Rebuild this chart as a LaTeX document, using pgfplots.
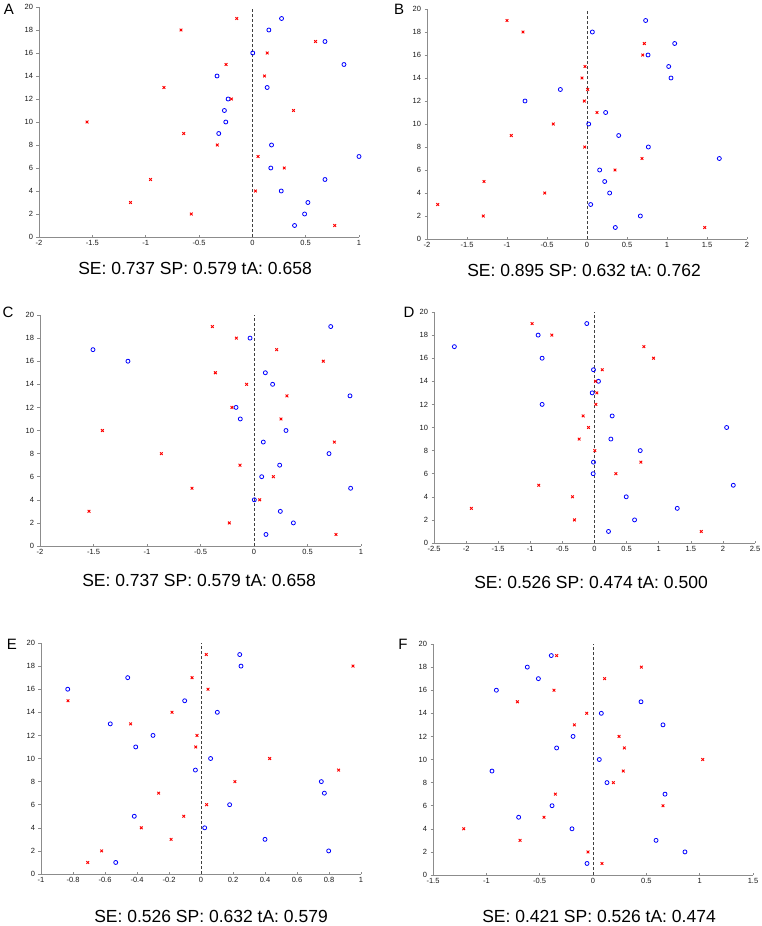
\documentclass[border=0pt]{standalone}
\usepackage{fontspec}
\setmainfont{Liberation Sans}
\usepackage{pgfplots}
\pgfplotsset{compat=1.18}
\pgfplotsset{
  panel/.style={
    scale only axis, width=320pt, height=230pt,
    axis lines*=left, ymin=0, ymax=20, ytick={0,2,...,20},
    xtick align=inside, ytick align=outside, major tick length=2.5pt,
    tick label style={font=\fontsize{7.5}{8}\selectfont, text=black!90},
    axis line style={black!45, line width=0.7pt},
    tick style={black!45, line width=0.5pt},
    clip=false,
    /pgf/number format/assume math mode=true,
    anchor=south west,
  },
  pos/.style={only marks, mark=o, color=blue, mark size=2pt, mark options={line width=0.8pt}},
  neg/.style={only marks, mark=x, color=red, mark size=1.9pt, mark options={line width=0.9pt}},
  zline/.style={black!75, dashed, line width=0.7pt, dash pattern=on 3pt off 2pt},
}
\newcommand{\capt}[1]{\fontsize{17.5}{20}\selectfont #1}
\newcommand{\lab}[1]{\fontsize{15}{17}\selectfont #1}
\begin{document}
\begin{tikzpicture}
\useasboundingbox (0pt,0pt) rectangle (761pt,-926pt);
% ---------- A ----------
\begin{axis}[panel, at={(39pt,-237pt)}, xmin=-2, xmax=1, xtick={-2,-1.5,...,1}]
\addplot[zline] coordinates {(0,0) (0,20)};
\addplot[pos] coordinates {(0.274,19)(0.155,18)(0.681,17)(0.004,16)(0.859,15)(-0.331,14)(0.139,13)(-0.227,12)(-0.262,11)(-0.249,10)(-0.315,9)(0.180,8)(1.0,7)(0.173,6)(0.681,5)(0.271,4)(0.521,3)(0.490,2)(0.396,1)};
\addplot[neg] coordinates {(-0.146,19)(-0.669,18)(0.593,17)(0.139,16)(-0.246,15)(0.114,14)(-0.829,13)(-0.196,12)(0.386,11)(-1.549,10)(-0.644,9)(-0.328,8)(0.054,7)(0.299,6)(-0.954,5)(0.029,4)(-1.142,3)(-0.572,2)(0.772,1)};
\end{axis}
% ---------- B ----------
\begin{axis}[panel, at={(427pt,-239pt)}, xmin=-2, xmax=2, xtick={-2,-1.5,...,2}]
\addplot[zline] coordinates {(0,0) (0,20)};
\addplot[pos] coordinates {(0.733,19)(0.067,18)(1.096,17)(0.763,16)(1.021,15)(1.05,14)(-0.333,13)(-0.775,12)(0.233,11)(0.021,10)(0.396,9)(0.767,8)(1.654,7)(0.158,6)(0.221,5)(0.283,4)(0.046,3)(0.667,2)(0.354,1)};
\addplot[neg] coordinates {(-1.0,19)(-0.8,18)(0.717,17)(0.696,16)(-0.025,15)(-0.062,14)(0.008,13)(-0.033,12)(0.125,11)(-0.421,10)(-0.946,9)(-0.029,8)(0.687,7)(0.35,6)(-1.287,5)(-0.529,4)(-1.867,3)(-1.296,2)(1.471,1)};
\end{axis}
% ---------- C ----------
\begin{axis}[panel, at={(40pt,-546pt)}, width=321pt, height=231pt, xmin=-2, xmax=1, xtick={-2,-1.5,...,1}]
\addplot[zline] coordinates {(0,0) (0,20)};
\addplot[pos] coordinates {(0.717,19)(-0.037,18)(-1.505,17)(-1.178,16)(0.106,15)(0.174,14)(0.897,13)(-0.168,12)(-0.128,11)(0.299,10)(0.087,9)(0.701,8)(0.240,7)(0.072,6)(0.903,5)(0.003,4)(0.246,3)(0.368,2)(0.112,1)};
\addplot[neg] coordinates {(-0.389,19)(-0.165,18)(0.212,17)(0.648,16)(-0.361,15)(-0.069,14)(0.308,13)(-0.206,12)(0.252,11)(-1.417,10)(0.751,9)(-0.866,8)(-0.131,7)(0.181,6)(-0.579,5)(0.053,4)(-1.542,3)(-0.231,2)(0.766,1)};
\end{axis}
% ---------- D ----------
\begin{axis}[panel, at={(434pt,-543pt)}, width=321pt, height=231pt, xmin=-2.5, xmax=2.5, xtick={-2.5,-2,...,2.5}]
\addplot[zline] coordinates {(0,0) (0,20)};
\addplot[pos] coordinates {(-0.120,19)(-0.878,18)(-2.183,17)(-0.816,16)(-0.016,15)(0.062,14)(-0.036,13)(-0.816,12)(0.275,11)(2.058,10)(0.255,9)(0.712,8)(-0.016,7)(-0.021,6)(2.162,5)(0.494,4)(1.289,3)(0.624,2)(0.218,1)};
\addplot[neg] coordinates {(-0.972,19)(-0.665,18)(0.769,17)(0.920,16)(0.120,15)(0.016,14)(0.036,13)(0.021,12)(-0.177,11)(-0.094,10)(-0.239,9)(0.005,8)(0.722,7)(0.333,6)(-0.868,5)(-0.343,4)(-1.918,3)(-0.312,2)(1.663,1)};
\end{axis}
% ---------- E ----------
\begin{axis}[panel, at={(41pt,-874pt)}, height=231pt, xmin=-1, xmax=1, xtick={-1,-0.8,...,1}, xticklabels={-1,-0.8,-0.6,-0.4,-0.2,0,0.2,0.4,0.6,0.8,1}]
\addplot[zline] coordinates {(0,0) (0,20)};
\addplot[pos] coordinates {(0.242,19)(0.25,18)(-0.458,17)(-0.833,16)(-0.102,15)(0.102,14)(-0.567,13)(-0.3,12)(-0.408,11)(0.060,10)(-0.035,9)(0.752,8)(0.771,7)(0.179,6)(-0.417,5)(0.023,4)(0.4,3)(0.798,2)(-0.533,1)};
\addplot[neg] coordinates {(0.033,19)(0.95,18)(-0.056,17)(0.044,16)(-0.831,15)(-0.181,14)(-0.440,13)(-0.025,12)(-0.033,11)(0.429,10)(0.860,9)(0.212,8)(-0.265,7)(0.035,6)(-0.108,5)(-0.373,4)(-0.187,3)(-0.621,2)(-0.708,1)};
\end{axis}
% ---------- F ----------
\begin{axis}[panel, at={(433pt,-875pt)}, height=231pt, xmin=-1.5, xmax=1.5, xtick={-1.5,-1,...,1.5}]
\addplot[zline] coordinates {(0,0) (0,20)};
\addplot[pos] coordinates {(-0.391,19)(-0.616,18)(-0.512,17)(-0.906,16)(0.45,15)(0.078,14)(0.656,13)(-0.187,12)(-0.341,11)(0.059,10)(-0.947,9)(0.131,8)(0.675,7)(-0.384,6)(-0.697,5)(-0.197,4)(0.591,3)(0.862,2)(-0.056,1)};
\addplot[neg] coordinates {(-0.341,19)(0.453,18)(0.109,17)(-0.366,16)(-0.709,15)(-0.059,14)(-0.175,13)(0.244,12)(0.294,11)(1.028,10)(0.284,9)(0.191,8)(-0.353,7)(0.656,6)(-0.459,5)(-1.212,4)(-0.684,3)(-0.047,2)(0.084,1)};
\end{axis}
% ---------- captions ----------
\begin{scope}[every node/.style={inner sep=0pt}]
\node at (195pt,-268pt) {\capt{SE: 0.737 SP: 0.579 tA: 0.658}};
\node at (584pt,-270pt) {\capt{SE: 0.895 SP: 0.632 tA: 0.762}};
\node at (199pt,-580pt) {\capt{SE: 0.737 SP: 0.579 tA: 0.658}};
\node at (591pt,-582pt) {\capt{SE: 0.526 SP: 0.474 tA: 0.500}};
\node at (211pt,-916pt) {\capt{SE: 0.526 SP: 0.632 tA: 0.579}};
\node at (599pt,-916pt) {\capt{SE: 0.421 SP: 0.526 tA: 0.474}};
% ---------- panel letters ----------
\node at (9pt,-9pt) {\lab{A}};
\node at (399pt,-9pt) {\lab{B}};
\node at (8pt,-312pt) {\lab{C}};
\node at (409pt,-312pt) {\lab{D}};
\node at (12pt,-644pt) {\lab{E}};
\node at (403pt,-644pt) {\lab{F}};
\end{scope}
\end{tikzpicture}
\end{document}
